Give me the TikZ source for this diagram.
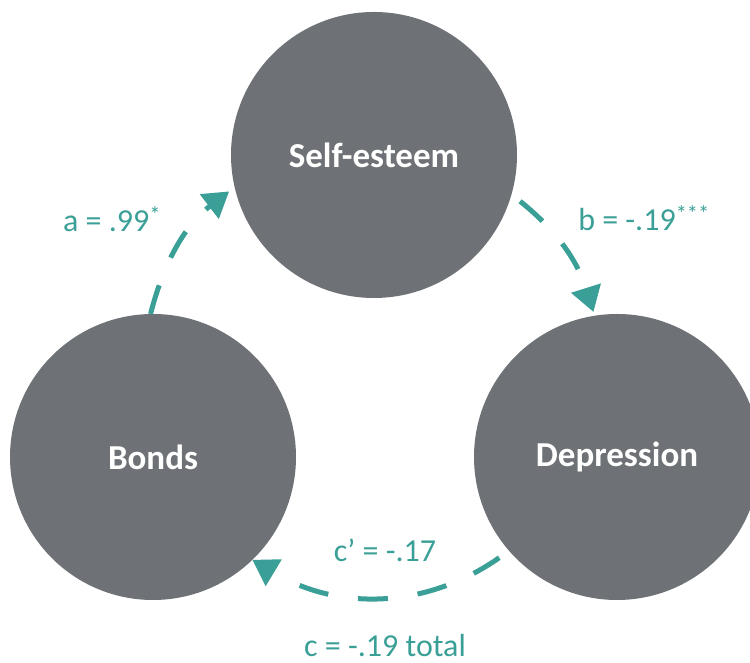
\documentclass[tikz,border=0pt]{standalone}
\usepackage{fontspec}
\setmainfont{Carlito}
\usetikzlibrary{arrows.meta}
\definecolor{circgray}{HTML}{6E7276}
\definecolor{teal}{HTML}{3A9F96}
\begin{document}
\begin{tikzpicture}[x=1pt,y=1pt,
  bubble/.style={circle, fill=circgray, draw=none, minimum size=286pt, inner sep=0pt, outer sep=0pt,
    text=white, font=\fontsize{35}{40}\selectfont\bfseries},
  link/.style={draw=teal, line width=5pt, dash pattern=on 30pt off 30pt,
    -{Triangle[length=25pt,width=30pt]}},
  lab/.style={text=teal, font=\fontsize{32}{36}\selectfont, inner sep=0pt, anchor=base}]
\useasboundingbox (0,0) rectangle (750,663);
\clip (0,0) rectangle (750,663);
\node[bubble] (self) at (374,508) {Self-esteem};
\node[bubble] (bonds) at (153,206) {Bonds};
\node[bubble] (dep) at (617,206) {Depression};
\draw[link, shorten >=7pt] (bonds.91) to[bend left=19] (self.193);
\draw[link, shorten <=11pt, shorten >=4pt] (self.344) to[bend left=17] (dep.99);
\draw[link, shorten <=12pt] (dep.221) to[bend left=33] (bonds.314);
\node[lab] (la) at (112,431) {a = .99\textsuperscript{*}};
\node[lab] (lb) at (644,432) {b = -.19\textsuperscript{***}};
\node[lab] (lc) at (385,101) {c’ = -.17};
\node[lab] (lt) at (385,6) {c = -.19 total};
\end{tikzpicture}
\end{document}
